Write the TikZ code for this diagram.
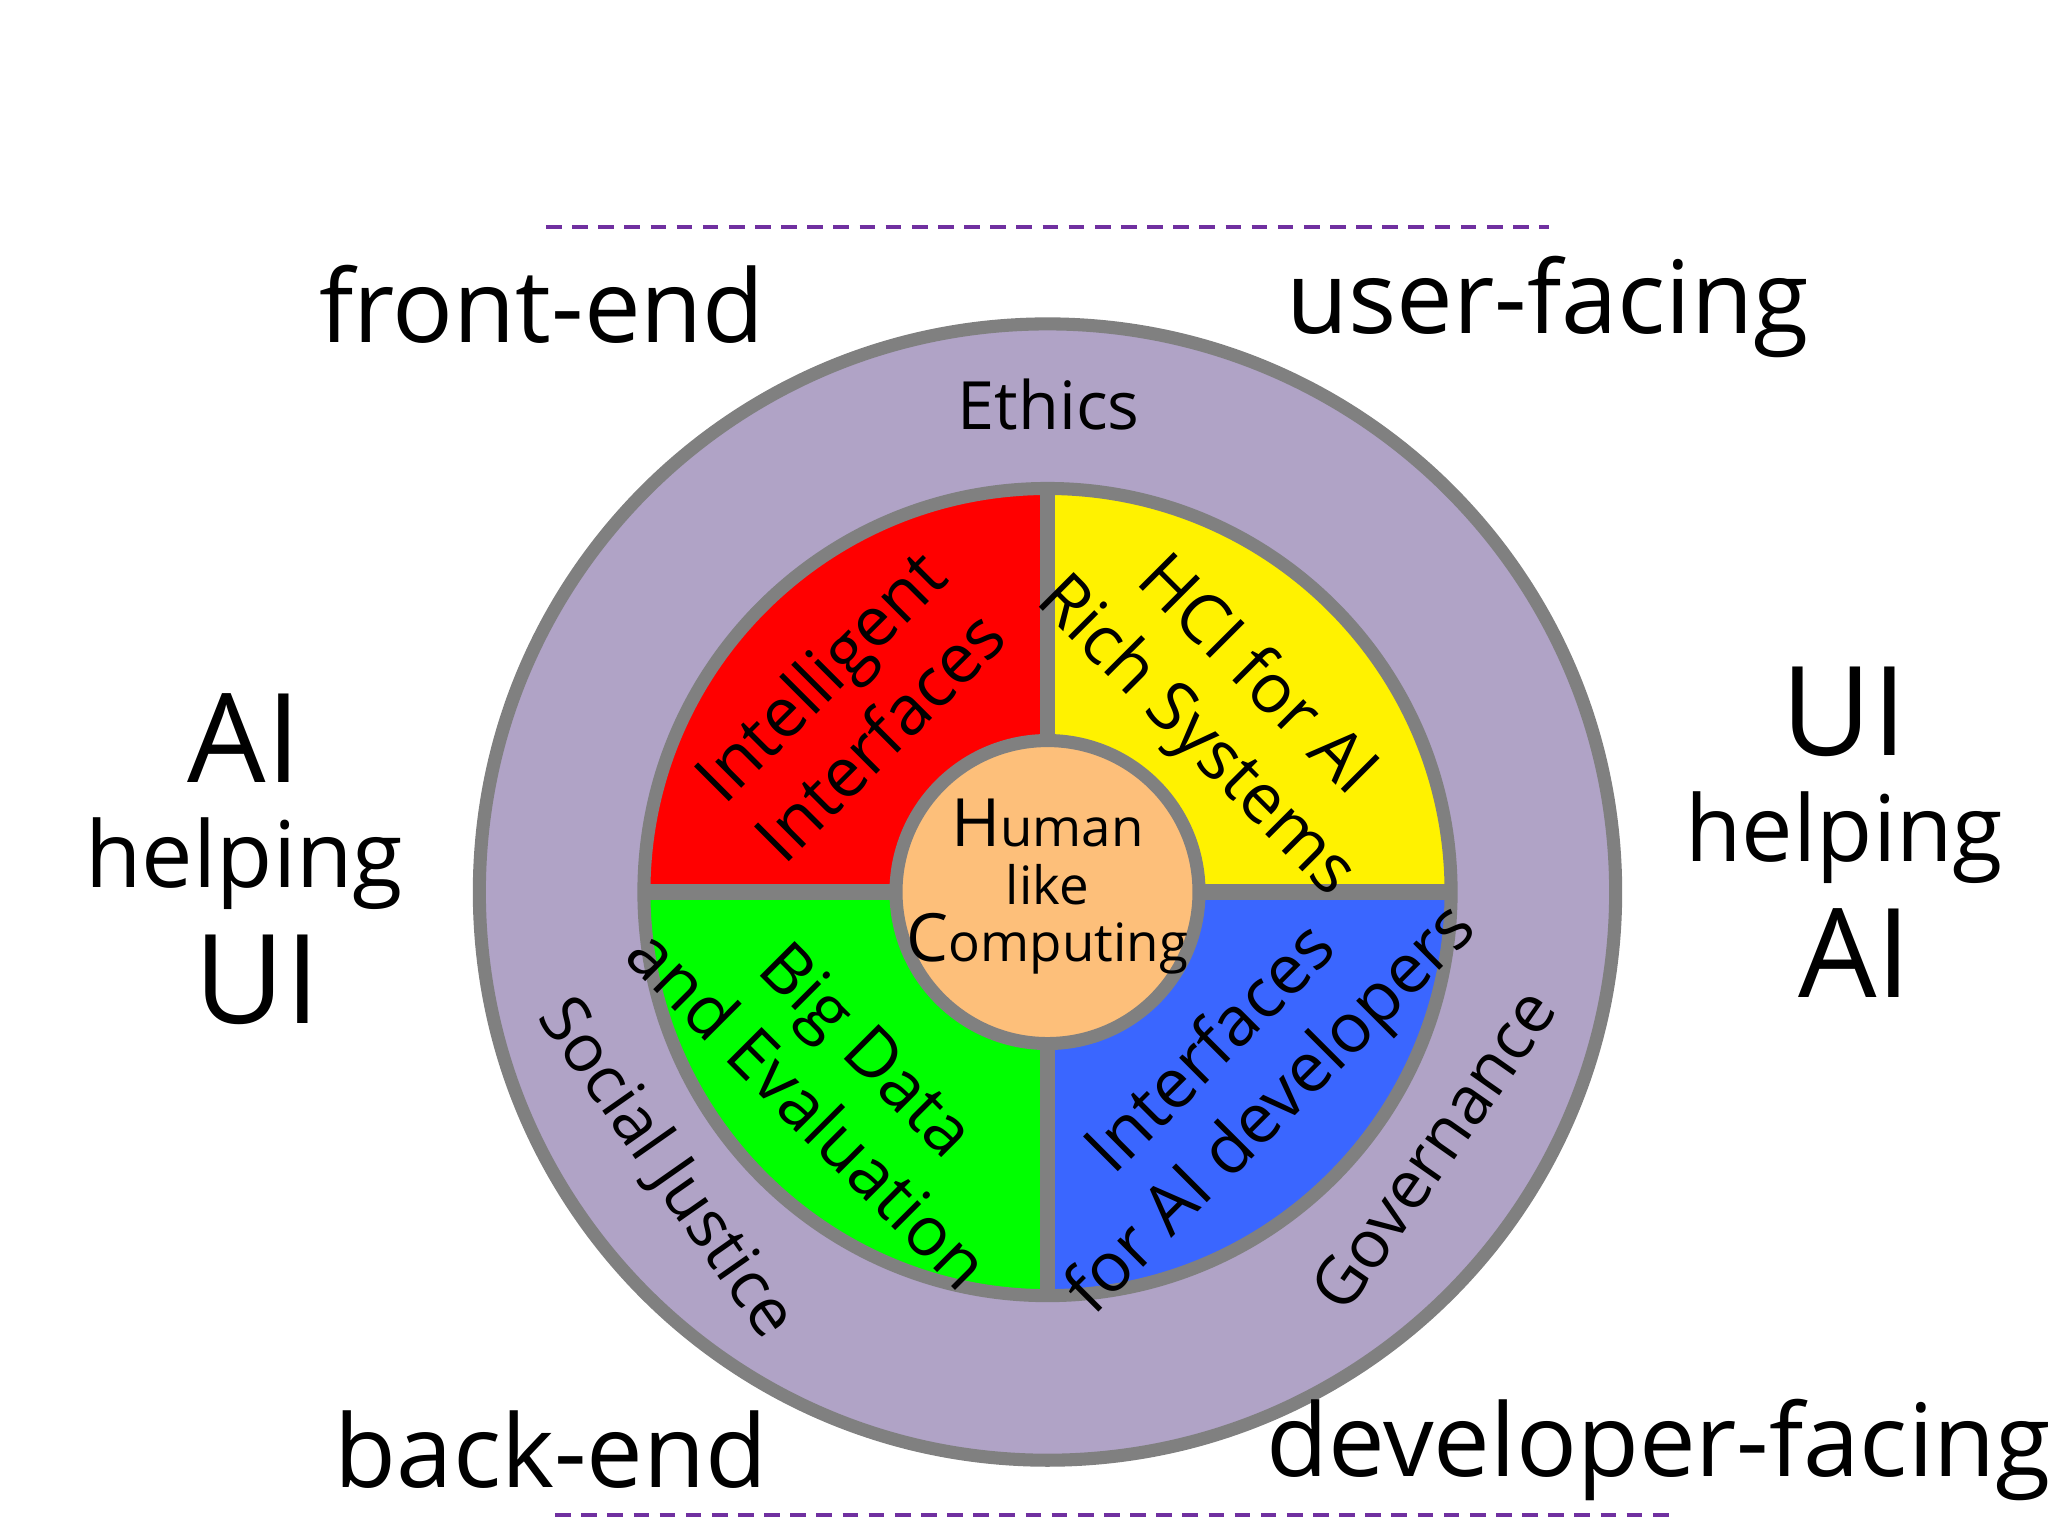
\documentclass[tikz,border=0pt]{standalone}
\usepackage{fontspec}
\setmainfont{Open Sans}
\begin{document}
\begin{tikzpicture}[x=0.01cm,y=0.01cm,
  big/.style={font=\fontsize{22}{26}\selectfont},
  huge/.style={font=\fontsize{27}{30}\selectfont},
  quad/.style={font=\fontsize{15}{18.5}\selectfont,align=center,inner sep=0},
  ring/.style={font=\fontsize{14.5}{16}\selectfont,inner sep=0},
  dline/.style={draw=pur,line width=0.03cm,dash pattern=on 0.12cm off 0.08cm}]
\useasboundingbox (0,0) rectangle (1568,1176);
\definecolor{lav}{HTML}{B0A3C6}
\definecolor{gr}{HTML}{808080}
\definecolor{bl}{HTML}{3A66FF}
\definecolor{org}{HTML}{FDBF7A}
\definecolor{pur}{HTML}{7030A0}
\coordinate (c) at (802,493);
\draw[gr,fill=lav,line width=0.1cm] (c) circle (435);
\fill[red] (c) -- ++(90:309) arc (90:180:309) -- cycle;
\fill[yellow] (c) -- ++(0:309) arc (0:90:309) -- cycle;
\fill[green] (c) -- ++(180:309) arc (180:270:309) -- cycle;
\fill[bl] (c) -- ++(270:309) arc (270:360:309) -- cycle;
\draw[gr,line width=0.12cm] (802,184) -- (802,802) (493,493) -- (1111,493);
\draw[gr,line width=0.1cm] (c) circle (309);
\draw[gr,fill=org,line width=0.1cm] (c) circle (116);
\node[align=center,inner sep=0,font=\fontsize{11.5}{12.5}\selectfont] (hc) at (802,497)
 {{\fontsize{14.5}{12.5}\selectfont H}uman\\like\\{\fontsize{14.5}{12.5}\selectfont C}omputing};
\node[quad,rotate=45] (ii) at (650,636) {Intelligent\\Interfaces};
\node[quad,rotate=-45] (hci) at (938,634) {HCI for AI\\Rich Systems};
\node[quad,rotate=-45] (bd) at (642,350) {Big Data\\and Evaluation};
\node[quad,rotate=45] (ia) at (952,348) {Interfaces\\for AI developers};
\node[ring] (eth) at (803,866) {Ethics};
\node[ring,rotate=-55] (sj) at (510,281) {Social Justice};
\node[ring,rotate=55] (gov) at (1097,296) {Governance};
\node[big] (fe) at (415,943) {front-end};
\node[big] (uf) at (1185,941) {user-facing};
\node[big] (be) at (422,66) {back-end};
\node[big] (df) at (1270,66) {developer-facing};
\node[huge] (l1) at (187,611) {AI};
\node[big,font=\fontsize{20}{24}\selectfont] (l2) at (187,515) {helping};
\node[huge] (l3) at (197,426) {UI};
\node[huge] (r1) at (1412,631) {UI};
\node[big,font=\fontsize{20}{24}\selectfont] (r2) at (1412,535) {helping};
\node[huge] (r3) at (1420,446) {AI};
\coordinate (d1) at (418,1002); \coordinate (d2) at (1186,1002);
\coordinate (d3) at (425,16); \coordinate (d4) at (1278,16);
\draw[dline] (d1) -- (d2);
\draw[dline] (d3) -- (d4);
\end{tikzpicture}
\end{document}
